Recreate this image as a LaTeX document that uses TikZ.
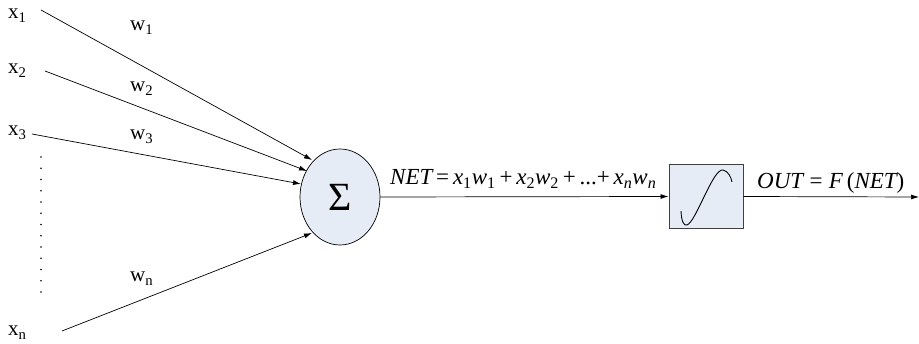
\documentclass[tikz,border=0pt]{standalone}
\usepackage{fontspec}
\setmainfont{Liberation Serif}
\usetikzlibrary{shapes.geometric,arrows.meta}
\definecolor{fillblue}{HTML}{E6ECF6}
\definecolor{boxedge}{HTML}{404040}
\newcommand{\sbs}[1]{\textsubscript{\upshape #1}}
\begin{document}
\begin{tikzpicture}[x=1pt,y=-1pt,
  lbl/.style={anchor=base west,inner sep=0pt,font=\fontsize{21}{23}\selectfont},
  eq/.style={anchor=base west,inner sep=0pt,font=\fontsize{23}{25}\selectfont\itshape},
  conn/.style={line width=0.7pt,-{Latex[length=8pt,width=5pt]}},
  sumnode/.style={ellipse,draw,line width=0.7pt,fill=fillblue,minimum width=80pt,minimum height=96pt,inner sep=0pt},
  actbox/.style={rectangle,draw=boxedge,line width=1pt,fill=fillblue,minimum width=74pt,minimum height=64pt,inner sep=0pt}]
\useasboundingbox (0,0) rectangle (919,344);

% labels
\node[lbl] (x1) at (8,19) {x\sbs{1}};
\node[lbl] (x2) at (8,74) {x\sbs{2}};
\node[lbl] (x3) at (8,136) {x\sbs{3}};
\node[lbl] (xn) at (8,336) {x\sbs{n}};
\node[lbl] (w1) at (130,31) {w\sbs{1}};
\node[lbl] (w2) at (130,92) {w\sbs{2}};
\node[lbl] (w3) at (130,140) {w\sbs{3}};
\node[lbl] (wn) at (130,282) {w\sbs{n}};

% summation and activation
\node[sumnode] (sum) at (340,197) {\fontsize{40}{42}\selectfont Σ};
\node[actbox] (act) at (706,196.5) {};
\draw[line width=0.9pt] (681,211) .. controls (681.5,222) and (684,226) .. (687,225)
  .. controls (696,222) and (713,168) .. (723,170)
  .. controls (728,171) and (731,177) .. (732,182);

% input start/end points
\coordinate (s1) at (41,10);
\coordinate (s2) at (45,71);
\coordinate (s3) at (32,134);
\coordinate (sn) at (62,331);
\coordinate (e1) at (312,160);
\coordinate (e2) at (307,171);
\coordinate (e3) at (301,184);
\coordinate (en) at (312,233);
\coordinate (out) at (919,197);

\draw[conn] (s1) -- (e1);
\draw[conn] (s2) -- (e2);
\draw[conn] (s3) -- (e3);
\draw[conn] (sn) -- (en);
\draw[conn] (sum.east) -- (act.west);
\draw[conn] (act.east) -- (out);

% dots
\foreach \i in {0,...,12} \fill (41,{157+\i*11.25}) circle (0.85pt);

% formulas
\node[eq] (net) at (390,185) {NET\,{\upshape =}\,x\sbs{1}w\sbs{1}\,{\upshape +}\,x\sbs{2}w\sbs{2}\,{\upshape +}\,{\upshape ...}{\upshape +}\,x\textsubscript{n}w\textsubscript{n}};
\node[eq] (outl) at (757,189) {OUT\;{\upshape =}\;F\,{\upshape (}NET{\upshape )}};
\end{tikzpicture}
\end{document}
